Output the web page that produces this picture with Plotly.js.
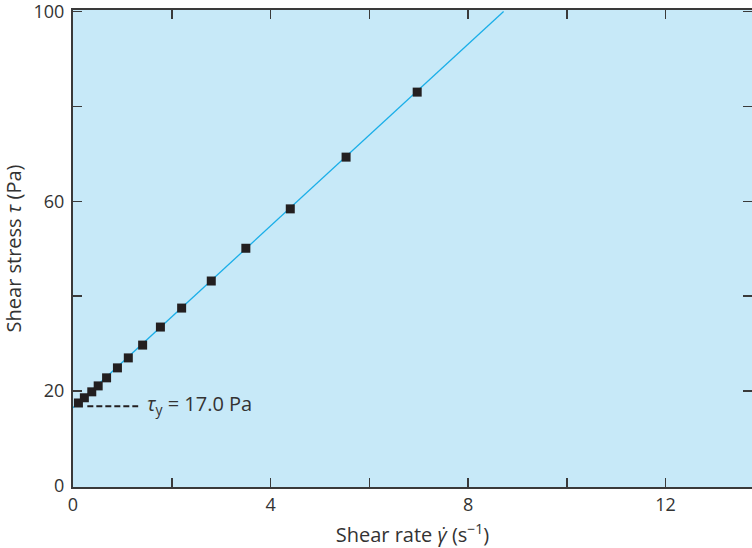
<!DOCTYPE html>
<html>
<head>
<meta charset="utf-8">
<script src="https://cdn.plot.ly/plotly-3.0.1.min.js"></script>
<style>html,body{margin:0;padding:0;background:#fff;}#chart{width:752px;height:548px;}</style>
</head>
<body>
<div id="chart"></div>
<script>
// Measured data: shear rate (1/s) and shear stress (Pa)
const shearRate   = [0.11, 0.23, 0.38, 0.51, 0.68, 0.90, 1.12, 1.41, 1.77, 2.20, 2.80, 3.50, 4.40, 5.53, 6.97];
const shearStress = [17.5, 18.6, 19.85, 21.1, 22.8, 24.9, 27.0, 29.7, 33.5, 37.5, 43.2, 50.1, 58.4, 69.3, 83.0];
// Bingham fit line (endpoints)
const fitX = [0, 8.72];
const fitY = [16.5, 100];
// Yield stress marker line
const yieldX = [0.29, 1.32];
const yieldY = [16.8, 16.8];
const yieldLabel = '<i>τ</i><sub>y</sub> = 17.0 Pa';
const xTickVals = [0, 2, 4, 6, 8, 10, 12];
const xTickText = ['0', '', '4', '', '8', '', '12'];
const yTickVals = [0, 20, 40, 60, 80, 100];
const yTickText = ['0', '20', '', '60', '', '100'];

const font = 'Open Sans, Noto Sans, sans-serif';
const axisCol = '#3a3a3a';

const traces = [
  {x: fitX, y: fitY, mode: 'lines', line: {color: '#1aaee8', width: 1.3}, hoverinfo: 'skip', xaxis: 'x', yaxis: 'y'},
  {x: yieldX, y: yieldY, mode: 'lines', line: {color: '#231f20', width: 2, dash: '6px,3px'}, hoverinfo: 'skip', xaxis: 'x', yaxis: 'y'},
  {x: shearRate, y: shearStress, mode: 'markers', marker: {symbol: 'square', size: 9, color: '#231f20'}, xaxis: 'x', yaxis: 'y2'}
];

const layout = {
  width: 752, height: 548,
  margin: {l: 73, r: 0, t: 10, b: 61},
  paper_bgcolor: '#ffffff',
  plot_bgcolor: '#c7e9f8',
  showlegend: false,
  font: {family: font, size: 18, color: '#333333'},
  xaxis: {
    range: [0, 13.75], showgrid: false, zeroline: false,
    showline: true, linecolor: axisCol, linewidth: 2, mirror: 'ticks',
    ticks: 'inside', ticklen: 9, tickwidth: 1.5, tickcolor: axisCol,
    tickmode: 'array', tickvals: xTickVals, ticktext: xTickText,
    ticklabeloverflow: 'allow',
    tickfont: {family: font, size: 18, color: '#333333'},
    title: {text: 'Shear rate <i>γ̇</i> (s<sup>−1</sup>)', font: {family: font, size: 20, color: '#333333'}, standoff: 14}
  },
  yaxis: {
    range: [-0.2, 100.3], showgrid: false, zeroline: false,
    showline: true, linecolor: axisCol, linewidth: 2,
    ticks: 'inside', ticklen: 9, tickwidth: 1.5, tickcolor: axisCol,
    tickmode: 'array', tickvals: yTickVals, ticktext: yTickText,
    ticklabeloverflow: 'allow',
    tickfont: {family: font, size: 18, color: '#333333'},
    ticklabelstandoff: 3,
    title: {text: 'Shear stress <i>τ</i> (Pa)', font: {family: font, size: 20, color: '#333333'}, standoff: 16}
  },
  yaxis2: {
    overlaying: 'y', side: 'right', range: [-0.2, 100.3],
    showgrid: false, zeroline: false, showline: false,
    ticks: 'inside', ticklen: 9, tickwidth: 1.5, tickcolor: axisCol,
    tickmode: 'array', tickvals: yTickVals, showticklabels: false
  },
  annotations: [{
    x: 1.46, y: 17.2, xref: 'x', yref: 'y', xanchor: 'left', yanchor: 'middle',
    text: yieldLabel, showarrow: false, font: {family: font, size: 20, color: '#333333'}
  }]
};

Plotly.newPlot('chart', traces, layout, {displayModeBar: false, staticPlot: true});
</script>
</body>
</html>
